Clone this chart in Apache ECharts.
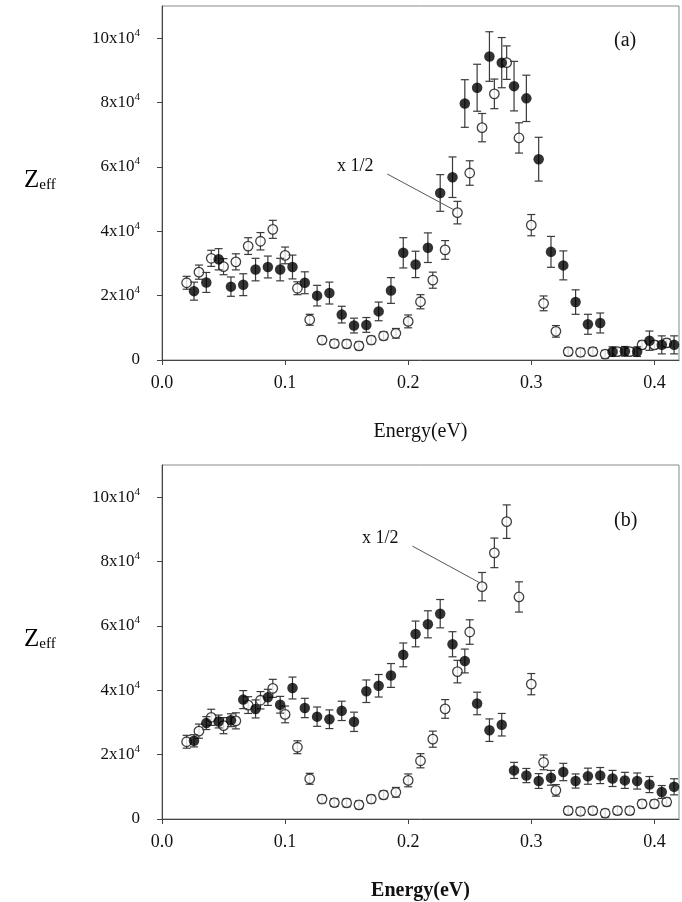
<!DOCTYPE html>
<html>
<head>
    <meta charset="utf-8">
    <title>Zeff</title>
    <script src="https://cdn.jsdelivr.net/npm/echarts@6/dist/echarts.min.js"></script>
    <style>
        html, body { margin: 0; padding: 0; background: #fff; }
    </style>
</head>
<body>
<div id="main" style="width: 682px;height:902px;"></div>
<script type="text/javascript">
    // open circles (x 1/2), same data on both panels
    var openEnergy = [0.02, 0.03, 0.04, 0.05, 0.06, 0.07, 0.08, 0.09, 0.10, 0.11,
        0.12, 0.13, 0.14, 0.15, 0.16, 0.17, 0.18, 0.19, 0.20, 0.21,
        0.22, 0.23, 0.24, 0.25, 0.26, 0.27, 0.28, 0.29, 0.30, 0.31,
        0.32, 0.33, 0.34, 0.35, 0.36, 0.37, 0.38, 0.39, 0.40, 0.41];
    var openZeff = [24000, 27300, 31600, 29000, 30500, 35400, 36900, 40600, 32500, 22300,
        12500, 6200, 5100, 5000, 4400, 6200, 7500, 8300, 12000, 18100,
        24800, 34200, 45800, 58100, 72200, 82700, 92400, 69000, 41900, 17600,
        8900, 2600, 2400, 2600, 1800, 2600, 2600, 4700, 4700, 5300];
    var openErr = [2000, 2200, 2500, 2500, 2500, 2600, 2700, 2800, 2600, 2000,
        1700, 1200, 1200, 1200, 1200, 1200, 1200, 1500, 2000, 2200,
        2500, 2900, 3500, 3800, 4400, 4600, 5200, 4700, 3300, 2300,
        1800, 1200, 1200, 1200, 1200, 1200, 1200, 1200, 1200, 1200];

    // filled circles
    var filledEnergy = [0.026, 0.036, 0.046, 0.056, 0.066, 0.076, 0.086, 0.096, 0.106, 0.116,
        0.126, 0.136, 0.146, 0.156, 0.166, 0.176, 0.186, 0.196, 0.206, 0.216,
        0.226, 0.236, 0.246, 0.256, 0.266, 0.276, 0.286, 0.296, 0.306, 0.316,
        0.326, 0.336, 0.346, 0.356, 0.366, 0.376, 0.386, 0.396, 0.406, 0.416];
    var filledZeffA = [21400, 24100, 31300, 22800, 23400, 28100, 28900, 28100, 28900, 24000,
        20000, 20800, 14100, 10700, 10900, 15100, 21600, 33300, 29700, 34900,
        51900, 56800, 79700, 84600, 94300, 92400, 85100, 81300, 62400, 33600,
        29400, 18000, 11100, 11500, 2600, 2700, 2600, 6000, 4700, 4700];
    var filledErrA = [2800, 3100, 3300, 3000, 3400, 3500, 3400, 3500, 3700, 3400,
        3200, 3400, 2600, 2300, 2300, 2900, 4000, 4700, 4100, 4600,
        5700, 6300, 7400, 7300, 7700, 7800, 7700, 7200, 6800, 4800,
        4500, 3800, 3100, 3100, 1500, 1500, 1500, 3000, 2800, 2800];
    var filledZeffB = [24300, 29800, 30300, 30700, 37100, 34200, 37800, 35500, 40700, 34500,
        31800, 31000, 33600, 30200, 39700, 41400, 44600, 51000, 57500, 60500,
        63800, 54300, 49100, 35900, 27600, 29300, 15100, 13500, 11800, 12800,
        14600, 11800, 13300, 13500, 12600, 12000, 11800, 10700, 8400, 10000];
    var filledErrB = [1900, 2000, 2000, 2000, 2800, 2800, 2500, 2600, 3400, 3000,
        3000, 2900, 3000, 3000, 3500, 3500, 3700, 3700, 4000, 4200,
        4400, 3900, 3700, 3500, 3500, 3500, 2500, 2200, 2300, 2300,
        2700, 2200, 2500, 2500, 2500, 2500, 2500, 2500, 2000, 2500];

    var xTicks = [0, 0.1, 0.2, 0.3, 0.4];
    var yTicks = [0, 20000, 40000, 60000, 80000, 100000];

    // "x 1/2" leader lines, in data coordinates
    var leaderA = [[0.183, 57800], [0.2374, 46600]];
    var leaderB = [[0.2034, 84800], [0.2577, 73500]];

    var serif = '"Liberation Serif", "DejaVu Serif", serif';

    var myChart = echarts.init(document.getElementById('main'));

    function pairs(xs, ys) {
        return xs.map(function (x, i) { return [x, ys[i]]; });
    }
    function errData(xs, ys, es) {
        return xs.map(function (x, i) { return [x, ys[i] - es[i], ys[i] + es[i]]; });
    }
    function renderErr(params, api) {
        var lo = api.coord([api.value(0), api.value(1)]);
        var hi = api.coord([api.value(0), api.value(2)]);
        var cap = 4;
        var st = { stroke: '#3a3a3a', lineWidth: 1.2 };
        return {
            type: 'group',
            children: [
                { type: 'line', shape: { x1: lo[0], y1: lo[1], x2: hi[0], y2: hi[1] }, style: st },
                { type: 'line', shape: { x1: lo[0] - cap, y1: lo[1], x2: lo[0] + cap, y2: lo[1] }, style: st },
                { type: 'line', shape: { x1: hi[0] - cap, y1: hi[1], x2: hi[0] + cap, y2: hi[1] }, style: st }
            ]
        };
    }

    function xAxisFor(idx, bold) {
        return {
            type: 'value', gridIndex: idx, min: 0, max: 0.42,
            axisLine: { show: true, onZero: false, lineStyle: { color: '#444', width: 1 } },
            axisTick: { show: true, customValues: xTicks, length: 5, lineStyle: { color: '#444' } },
            axisLabel: {
                customValues: xTicks, margin: 14,
                fontFamily: serif, fontSize: 18, color: '#111',
                formatter: function (v) { return v.toFixed(1); }
            },
            splitLine: { show: false },
            name: 'Energy(eV)', nameLocation: 'middle', nameGap: 62,
            nameTextStyle: { fontFamily: serif, fontSize: 20, color: '#111', fontWeight: bold ? 'bold' : 'normal' }
        };
    }
    function yAxisFor(idx) {
        return {
            type: 'value', gridIndex: idx, min: 0, max: 110000,
            axisLine: { show: true, lineStyle: { color: '#444', width: 1 } },
            axisTick: { show: true, customValues: yTicks, length: 5, lineStyle: { color: '#444' } },
            axisLabel: {
                customValues: yTicks, margin: 22, color: '#111',
                formatter: function (v) {
                    if (v === 0) return '{a|0}';
                    return '{a|' + (v / 10000) + 'x10}{s|4}';
                },
                rich: {
                    a: { fontFamily: serif, fontSize: 17, color: '#111', lineHeight: 22, verticalAlign: 'middle' },
                    s: { fontFamily: serif, fontSize: 11, color: '#111', lineHeight: 12, verticalAlign: 'top' }
                }
            },
            splitLine: { show: false }
        };
    }

    function panelSeries(idx, fE, fZ, fErr, leader) {
        return [
            {
                type: 'custom', xAxisIndex: idx, yAxisIndex: idx, z: 2,
                renderItem: renderErr, data: errData(openEnergy, openZeff, openErr), silent: true
            },
            {
                type: 'scatter', xAxisIndex: idx, yAxisIndex: idx, z: 3,
                symbol: 'circle', symbolSize: 9.5,
                itemStyle: { color: '#fff', borderColor: '#111', borderWidth: 1.3 },
                data: pairs(openEnergy, openZeff),
                markLine: {
                    silent: true, symbol: 'none', animation: false,
                    label: { show: false },
                    lineStyle: { color: '#555', width: 1, type: 'solid' },
                    data: [[{ coord: leader[0] }, { coord: leader[1] }]]
                }
            },
            {
                type: 'custom', xAxisIndex: idx, yAxisIndex: idx, z: 4,
                renderItem: renderErr, data: errData(fE, fZ, fErr), silent: true
            },
            {
                type: 'scatter', xAxisIndex: idx, yAxisIndex: idx, z: 5,
                symbol: 'circle', symbolSize: 10.5,
                itemStyle: { color: '#000', borderColor: '#000', borderWidth: 0 },
                data: pairs(fE, fZ)
            }
        ];
    }

    function zeffText(top) {
        return {
            type: 'text', left: 24, top: top,
            style: {
                text: '{z|Z}{e|eff}',
                rich: {
                    z: { fontFamily: serif, fontSize: 25, color: '#111', lineHeight: 26, verticalAlign: 'bottom' },
                    e: { fontFamily: serif, fontSize: 15, color: '#111', lineHeight: 15, verticalAlign: 'bottom' }
                }
            }
        };
    }
    function plainText(left, top, txt, size) {
        return {
            type: 'text', left: left, top: top,
            style: { text: txt, fontFamily: serif, fontSize: size, fill: '#111' }
        };
    }

    myChart.setOption({
        animation: false,
        grid: [
            { left: 162, top: 6, width: 517, height: 354, show: true, borderColor: '#8a8a8a', borderWidth: 1 },
            { left: 162, top: 465, width: 517, height: 354, show: true, borderColor: '#8a8a8a', borderWidth: 1 }
        ],
        xAxis: [xAxisFor(0, false), xAxisFor(1, true)],
        yAxis: [yAxisFor(0), yAxisFor(1)],
        series: panelSeries(0, filledEnergy, filledZeffA, filledErrA, leaderA)
            .concat(panelSeries(1, filledEnergy, filledZeffB, filledErrB, leaderB)),
        graphic: [
            zeffText(168),
            zeffText(627),
            plainText(614, 31, '(a)', 20),
            plainText(614, 511, '(b)', 20),
            plainText(337, 157, 'x 1/2', 18),
            plainText(362, 529, 'x 1/2', 18)
        ]
    });
</script>
</body>
</html>
